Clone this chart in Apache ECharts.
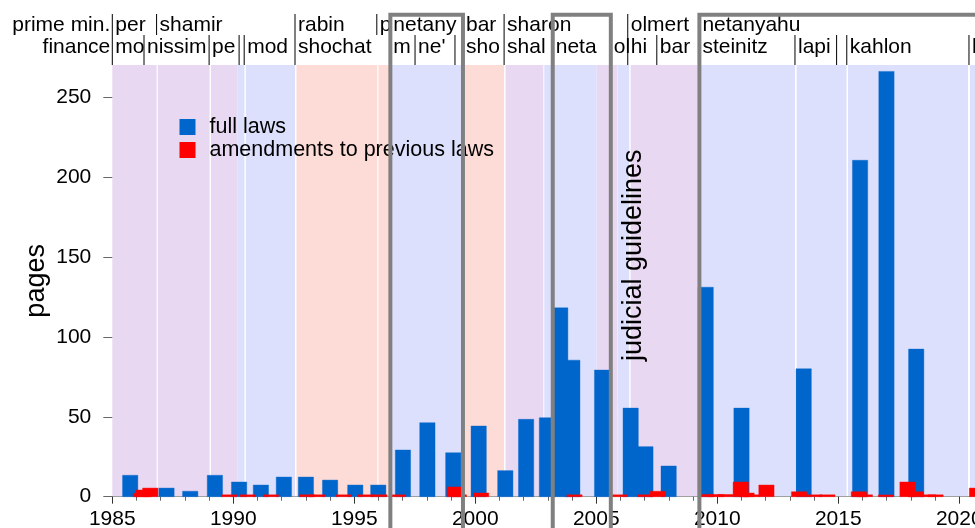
<!DOCTYPE html>
<html><head><meta charset="utf-8">
<script src="https://cdn.jsdelivr.net/npm/echarts@6/dist/echarts.min.js"></script>
<style>html,body{margin:0;padding:0;background:#fff}#c{width:975px;height:528px}</style>
</head><body><div id="c"></div>
<script>
// ---------- data ----------
const fullX = [1985.74,1987.24,1988.22,1989.24,1990.24,1991.14,1992.09,1993.00,1994.00,1995.04,1995.99,1997.01,1998.02,1999.09,2000.14,2001.24,2002.10,2002.96,2003.51,2004.01,2005.24,2006.42,2007.03,2007.99,2009.52,2011.00,2013.57,2015.90,2016.99,2018.22];
const fullV = [13.4,5.4,3.4,13.4,9.2,7.3,12.3,12.3,10.4,7.3,7.3,29.2,46.3,27.5,44.2,16.3,48.4,49.4,118.1,85.4,79.2,55.4,31.3,19.2,131,55.4,80,210.4,266,92.3];
const amendX = [1986.18,1986.30,1986.57,1989.83,1990.60,1991.55,1993.05,1993.47,1994.57,1995.45,1996.04,1996.81,1999.32,1999.15,2000.24,2004.10,2005.97,2007.02,2007.54,2009.55,2009.95,2010.34,2011.43,2011.21,2010.97,2012.03,2013.38,2014.00,2014.55,2016.10,2015.85,2016.97,2018.20,2017.86,2018.71,2019.02,2020.73];
const amendV = [2.1,4.2,5.4,1.2,1.2,1.2,1.2,1.2,1.2,1.2,1.2,1.2,1.2,6.1,2.3,1.2,1.2,1.2,3.4,1.4,1.4,1.4,1.2,2.3,9.2,7.3,3.1,1.2,1.2,1.2,3.1,1.1,3.1,9.2,1.2,1.2,5.4];
const bandStart = [1985.00,1986.88,1989.08,1990.18,1990.52,1992.61,1996.00,1996.47,1999.57,2001.25,2002.85,2005.02,2005.87,2006.42,2009.24,2013.28,2015.40,2020.44];
const bandEnd   = [1986.83,1989.02,1990.18,1990.46,1992.55,1995.95,1996.47,1999.51,2001.19,2002.81,2005.02,2005.86,2006.36,2009.18,2013.21,2015.34,2020.36,2025.00];
const bandKind  = ['unity','unity','unity','likud','likud','labor','labor','likud','labor','unity','likud','unity','likud','unity','likud','likud','likud','likud'];
const pmStart = [1985.00,1986.83,1992.55,1995.93,1996.49,1999.49,2001.19,2006.30,2009.26];
const pmLabel = ['per','shamir','rabin','p','netany','bar','sharon','olmert','netanyahu'];
const finStart = [1985.00,1986.31,1989.00,1990.24,1990.45,1992.55,1996.49,1997.51,1999.16,1999.49,2001.19,2003.20,2005.60,2006.30,2007.50,2009.26,2013.21,2014.93,2015.35,2020.40];
const finLabel = ['mo','nissim','pe','','mod','shochat','m',"ne'",'','sho','shal','neta','ol','hi','bar','steinitz','lapi','','kahlon','k'];
const boxStart = [1996.49,2003.20,2009.26];
const boxEnd   = [1999.49,2005.60,2025.00];
const noteX = [2006.53];
const noteY = [151];
const noteText = ['judicial guidelines'];
const yTicks = [0,50,100,150,200,250];
const rowTitles = ['prime min.','finance'];

// ---------- styles ----------
const FONT = '"Liberation Sans", Arial, sans-serif';
const BAR_W = 0.632;
const bandColor = {unity:'#e8d8f2', likud:'#dde0fc', labor:'#fddcd8'};
const BLUE = '#0066cc', RED = '#ff0000';

function barRender(color){
  return function(params, api){
    const x = api.value(0), v = api.value(1);
    const p0 = api.coord([x - BAR_W/2, 0]);
    const p1 = api.coord([x + BAR_W/2, v]);
    return {type:'rect', shape:{x:p0[0], y:p1[1], width:p1[0]-p0[0], height:p0[1]-p1[1]},
      style:{fill:color, stroke:color, lineWidth:0.8, strokeOpacity:0.5}};
  };
}

const chart = echarts.init(document.getElementById('c'), null, {renderer:'canvas'});
chart.setOption({
  animation:false,
  backgroundColor:'#fff',
  textStyle:{fontFamily:FONT},
  grid:{left:112.3, right:-105.3, top:65, bottom:31.3, outerBoundsMode:'none', containLabel:false},
  xAxis:{type:'value', min:1985, max:2025, interval:5,
    axisLine:{show:true, lineStyle:{color:'#a0a0a0', width:1}},
    axisTick:{show:true, length:7, lineStyle:{color:'#333'}},
    minorTick:{show:true, splitNumber:5, length:4, lineStyle:{color:'#666'}},
    splitLine:{show:false}, minorSplitLine:{show:false},
    axisLabel:{fontSize:21, color:'#000', margin:12, fontFamily:FONT, formatter:v=>String(v)}},
  yAxis:{type:'value', min:0, max:270,
    name:'pages', nameLocation:'middle', nameGap:62, nameRotate:90, nameMoveOverlap:false,
    nameTextStyle:{fontSize:27, color:'#000', fontFamily:FONT},
    axisLine:{show:false},
    axisTick:{show:true, length:9, customValues:yTicks, lineStyle:{color:'#666'}},
    splitLine:{show:false},
    axisLabel:{fontSize:21, color:'#000', margin:21, customValues:yTicks, fontFamily:FONT}},
  legend:{left:179.5, top:116, orient:'vertical', padding:0, itemGap:1, itemWidth:16, itemHeight:16,
    textStyle:{fontSize:21.5, color:'#000', fontFamily:FONT, padding:[0,0,0,9]},
    data:[{name:'full laws', icon:'rect'},{name:'amendments to previous laws', icon:'rect'}]},
  series:[
    {type:'custom', name:'bands', z:0, silent:true,
      data:bandStart.map((s,i)=>[s, bandEnd[i], i]),
      encode:{x:[0,1]},
      renderItem:function(params, api){
        const s = api.value(0), e = api.value(1), k = bandKind[api.value(2)];
        const p0 = api.coord([s, 270]), p1 = api.coord([e, 0]);
        return {type:'rect', shape:{x:p0[0], y:p0[1], width:p1[0]-p0[0], height:p1[1]-p0[1]}, style:{fill:bandColor[k]}};
      }},
    {type:'custom', name:'full laws', z:2, itemStyle:{color:BLUE},
      data:fullX.map((x,i)=>[x, fullV[i]]), renderItem:barRender(BLUE)},
    {type:'custom', name:'amendments to previous laws', z:3, itemStyle:{color:RED},
      data:amendX.map((x,i)=>[x, amendV[i]]), renderItem:barRender(RED)},
    {type:'custom', name:'pm', z:5, silent:true, clip:false,
      data:pmStart.map((s,i)=>[s, 0, i]),
      renderItem:function(params, api){
        const top = params.coordSys.y;
        const x = api.coord([api.value(0), 0])[0];
        const lbl = pmLabel[api.value(2)];
        return {type:'group', children:[
          {type:'line', shape:{x1:x, y1:top-51, x2:x, y2:top-30}, style:{stroke:'#000', lineWidth:1}},
          {type:'text', x:x+3, y:top-39.5, style:{text:lbl, fill:'#000', font:'21px '+FONT, align:'left', verticalAlign:'middle'}}
        ]};
      }},
    {type:'custom', name:'fin', z:5, silent:true, clip:false,
      data:finStart.map((s,i)=>[s, 0, i]),
      renderItem:function(params, api){
        const top = params.coordSys.y;
        const x = api.coord([api.value(0), 0])[0];
        const lbl = finLabel[api.value(2)];
        return {type:'group', children:[
          {type:'line', shape:{x1:x, y1:top-30, x2:x, y2:top}, style:{stroke:'#000', lineWidth:1}},
          {type:'text', x:x+3, y:top-18, style:{text:lbl, fill:'#000', font:'21px '+FONT, align:'left', verticalAlign:'middle'}}
        ]};
      }},
    {type:'custom', name:'titles', z:5, silent:true, clip:false,
      data:[[1985,0,0],[1985,0,1]],
      renderItem:function(params, api){
        const top = params.coordSys.y;
        const x = api.coord([api.value(0), 0])[0];
        const r = api.value(2);
        return {type:'text', x:x-2, y: r===0 ? top-39.5 : top-18,
          style:{text:rowTitles[r], fill:'#000', font:'21px '+FONT, align:'right', verticalAlign:'middle'}};
      }},
    {type:'custom', name:'boxes', z:6, silent:true, clip:false,
      data:boxStart.map((s,i)=>[s, boxEnd[i]]),
      encode:{x:[0,1]},
      renderItem:function(params, api){
        const top = params.coordSys.y;
        const a = api.coord([api.value(0), 0]), b = api.coord([api.value(1), 0]);
        const yT = top - 50.3, yB = 560;
        return {type:'polyline', shape:{points:[[a[0],yB],[a[0],yT],[b[0],yT],[b[0],yB]]},
          style:{stroke:'#808080', lineWidth:4, fill:null, lineJoin:'miter'}};
      }},
    {type:'custom', name:'note', z:7, silent:true, clip:false,
      data:noteX.map((x,i)=>[x, noteY[i], i]),
      renderItem:function(params, api){
        const p = api.coord([api.value(0), api.value(1)]);
        return {type:'text', x:p[0], y:p[1], rotation:Math.PI/2,
          style:{text:noteText[api.value(2)], fill:'#000', font:'27px '+FONT, align:'center', verticalAlign:'middle'}};
      }}
  ]
});
</script></body></html>
